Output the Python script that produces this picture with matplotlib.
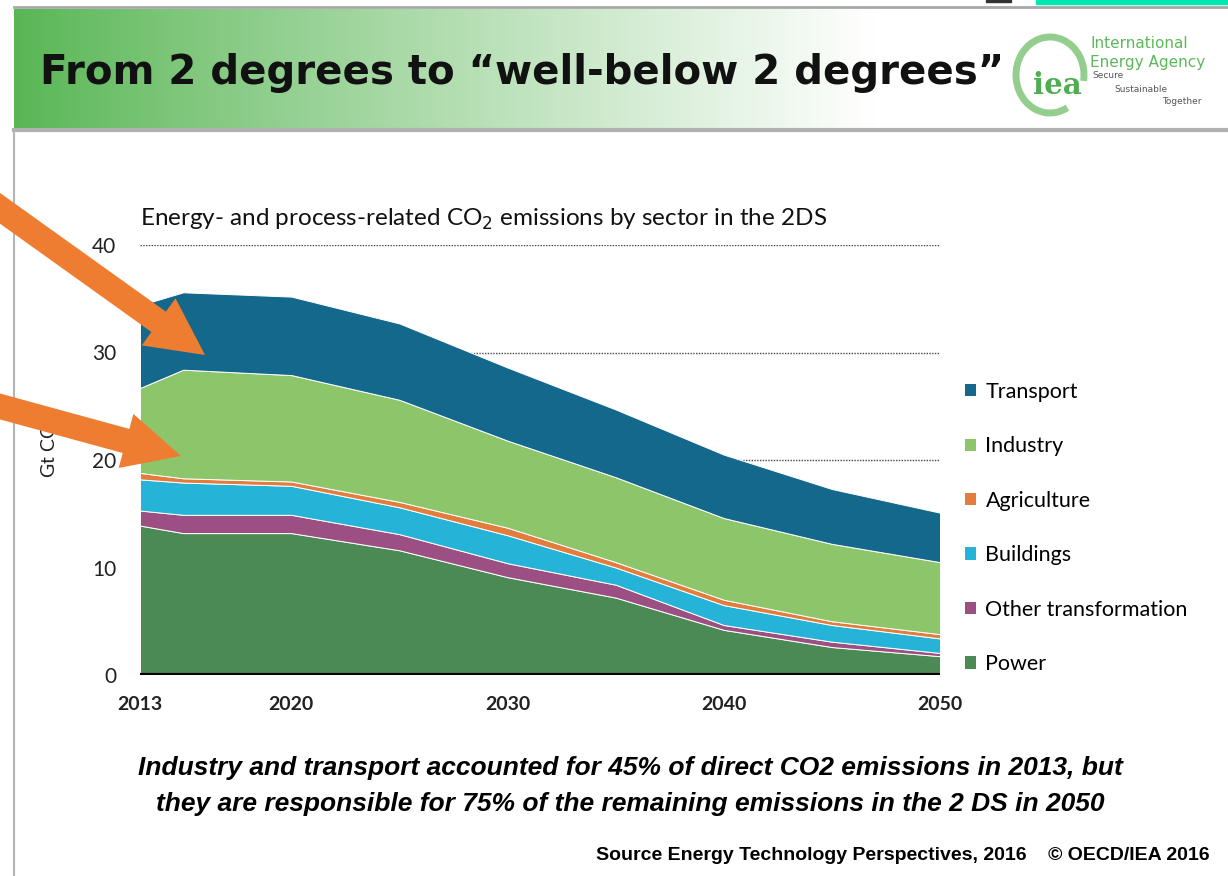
import numpy as np
import matplotlib
matplotlib.use("Agg")
import matplotlib.pyplot as plt
from matplotlib.patches import Polygon, Rectangle, Arc

# ---------------- data ----------------
years = [2013, 2015, 2020, 2025, 2030, 2035, 2040, 2045, 2050]
sectors = ["Power", "Other transformation", "Buildings", "Agriculture", "Industry", "Transport"]
power = [13.9, 13.2, 13.2, 11.6, 9.1, 7.2, 4.2, 2.6, 1.75]
other_transformation = [1.4, 1.7, 1.7, 1.5, 1.3, 1.2, 0.45, 0.5, 0.3]
buildings = [2.9, 3.0, 2.7, 2.5, 2.6, 1.6, 1.85, 1.55, 1.35]
agriculture = [0.6, 0.4, 0.4, 0.5, 0.7, 0.5, 0.5, 0.35, 0.4]
industry = [7.9, 10.1, 9.9, 9.5, 8.1, 7.9, 7.6, 7.2, 6.7]
transport = [7.7, 7.2, 7.3, 7.1, 6.8, 6.3, 5.9, 5.1, 4.6]
xtick_labels = [2013, 2020, 2030, 2040, 2050]
ytick_values = [0, 10, 20, 30, 40]

colors = ["#4b8a54", "#9b4f82", "#26b3d8", "#e27d3e", "#8dc56b", "#14688c"]

W, H = 1228, 876
fig = plt.figure(figsize=(W / 100, H / 100), dpi=100)
fig.patch.set_facecolor("white")

# ---------------- background decorations (pixel coords) ----------------
bg = fig.add_axes([0, 0, 1, 1], zorder=0)
bg.set_xlim(0, W)
bg.set_ylim(H, 0)
bg.axis("off")

# header gradient
xs = np.linspace(0, 1, 600)
t = np.clip(xs * (W - 14) / 860.0, 0, 1) ** 0.9
green = np.array([88, 182, 84]) / 255.0
white = np.array([1.0, 1.0, 1.0])
grad = (green[None, :] * (1 - t[:, None]) + white[None, :] * t[:, None])[None, :, :]
bg.imshow(grad, extent=[14, W, 128, 9], aspect="auto", interpolation="bilinear", zorder=1)
bg.plot([14, W], [7, 7], color="#a8a8a8", lw=2, zorder=2)
bg.plot([14, W], [130, 130], color="#b0b0b0", lw=3, zorder=2)
bg.plot([14, 14], [130, H], color="#b4b4b4", lw=1.5, zorder=2)
bg.add_patch(Rectangle((1036, 0), W - 1036, 4, color="#00e8b0", zorder=3))
bg.add_patch(Rectangle((986, 0), 25, 1.5, color="#333333", zorder=3))

# title
bg.text(40, 73, "From 2 degrees to \u201cwell-below 2 degrees\u201d", fontsize=29,
        fontweight="bold", family="DejaVu Sans", color="#111111", va="center", ha="left", zorder=4)

# IEA logo
bg.add_patch(Arc((1050, 75), 68, 76, theta1=62, theta2=370, color="#93ce8f", lw=5, zorder=4))
bg.text(1057, 86, "iea", fontsize=21, color="#4fae52", family="DejaVu Serif", fontweight="bold",
        ha="center", va="center", zorder=5)
bg.text(1090, 43, "International", fontsize=11, color="#5db85a", family="DejaVu Sans",
        ha="left", va="center", zorder=5)
bg.text(1090, 62, "Energy Agency", fontsize=11, color="#5db85a", family="DejaVu Sans",
        ha="left", va="center", zorder=5)
bg.text(1092, 76, "Secure", fontsize=6.5, color="#555555", ha="left", va="center", zorder=5)
bg.text(1114, 89, "Sustainable", fontsize=6.5, color="#555555", ha="left", va="center", zorder=5)
bg.text(1202, 101, "Together", fontsize=6.5, color="#555555", ha="right", va="center", zorder=5)

# ---------------- chart ----------------
left, right = 140 / W, 940 / W
bottom, top = 1 - 675 / H, 1 - 245 / H
ax = fig.add_axes([left, bottom, right - left, top - bottom], zorder=2)
ax.patch.set_alpha(0)

for yv in ytick_values[1:]:
    ax.axhline(yv, color="#444444", lw=1.0, ls=(0, (1, 1)), zorder=0)

polys = ax.stackplot(years, power, other_transformation, buildings, agriculture, industry,
                     transport, colors=colors, labels=sectors, edgecolor="white",
                     linewidth=0.7, zorder=2)
ax.axhline(0, color="black", lw=3, zorder=3)

ax.set_xlim(2013, 2050)
ax.set_ylim(0, 40)
ax.set_xticks(xtick_labels)
ax.set_xticklabels([str(v) for v in xtick_labels], fontsize=14, family="Lato",
                   fontweight="bold", color="#222222")
ax.set_yticks(ytick_values)
ax.set_yticklabels([str(v) for v in ytick_values], fontsize=15, family="Lato", color="#222222")
ax.tick_params(axis="both", length=0)
ax.tick_params(axis="x", pad=15)
ax.tick_params(axis="y", pad=17)
for s in ax.spines.values():
    s.set_visible(False)

fig.text(140 / W, 1 - 219 / H, "Energy- and process-related CO$_2$ emissions by sector in the 2DS",
         fontsize=17.5, family="Lato", color="#111111", ha="left", va="center")
fig.text(50 / W, 1 - 446 / H, "Gt CO$_2$", rotation=90, fontsize=14, family="Lato",
         color="#222222", ha="center", va="center")

handles = polys[::-1]
labels = sectors[::-1]
leg = ax.legend(handles, labels, loc="center left", bbox_to_anchor=(965 / W, 1 - 528 / H),
                bbox_transform=fig.transFigure, frameon=False,
                prop={"family": "Lato", "size": 15.5}, handlelength=0.5, handleheight=0.5,
                handletextpad=0.45, labelspacing=1.6, borderpad=0, borderaxespad=0)
for h in leg.legend_handles:
    h.set_edgecolor("none")

# ---------------- foreground: arrows and captions ----------------
fg = fig.add_axes([0, 0, 1, 1], zorder=10)
fg.set_xlim(0, W)
fg.set_ylim(H, 0)
fg.axis("off")
fg.patch.set_alpha(0)


def arrow_poly(tail, tip, sw, hw, hl):
    tail = np.array(tail, float)
    tip = np.array(tip, float)
    d = tip - tail
    d /= np.hypot(*d)
    n = np.array([-d[1], d[0]])
    base = tip - d * hl
    pts = [tail + n * sw / 2, base + n * sw / 2, base + n * hw / 2, tip,
           base - n * hw / 2, base - n * sw / 2, tail - n * sw / 2]
    return Polygon(pts, closed=True, color="#ee7d31", lw=0)


fg.add_patch(arrow_poly((-20, 194), (205, 355), 25, 58, 57))
fg.add_patch(arrow_poly((-20, 401), (181, 456), 25, 56, 57))

cap_font = ["Liberation Sans"]
fg.text(630, 768, "Industry and transport accounted for 45% of direct CO2 emissions in 2013, but",
        fontsize=19, family=cap_font, fontweight="bold", fontstyle="italic",
        ha="center", va="center", color="black")
fg.text(630, 804, "they are responsible for 75% of the remaining emissions in the 2 DS in 2050",
        fontsize=19, family=cap_font, fontweight="bold", fontstyle="italic",
        ha="center", va="center", color="black")
fg.text(1210, 855, "Source Energy Technology Perspectives, 2016    \u00a9 OECD/IEA 2016",
        fontsize=14, family=cap_font, fontweight="bold", ha="right", va="center", color="black")

fig.savefig("out.png", dpi=100)
